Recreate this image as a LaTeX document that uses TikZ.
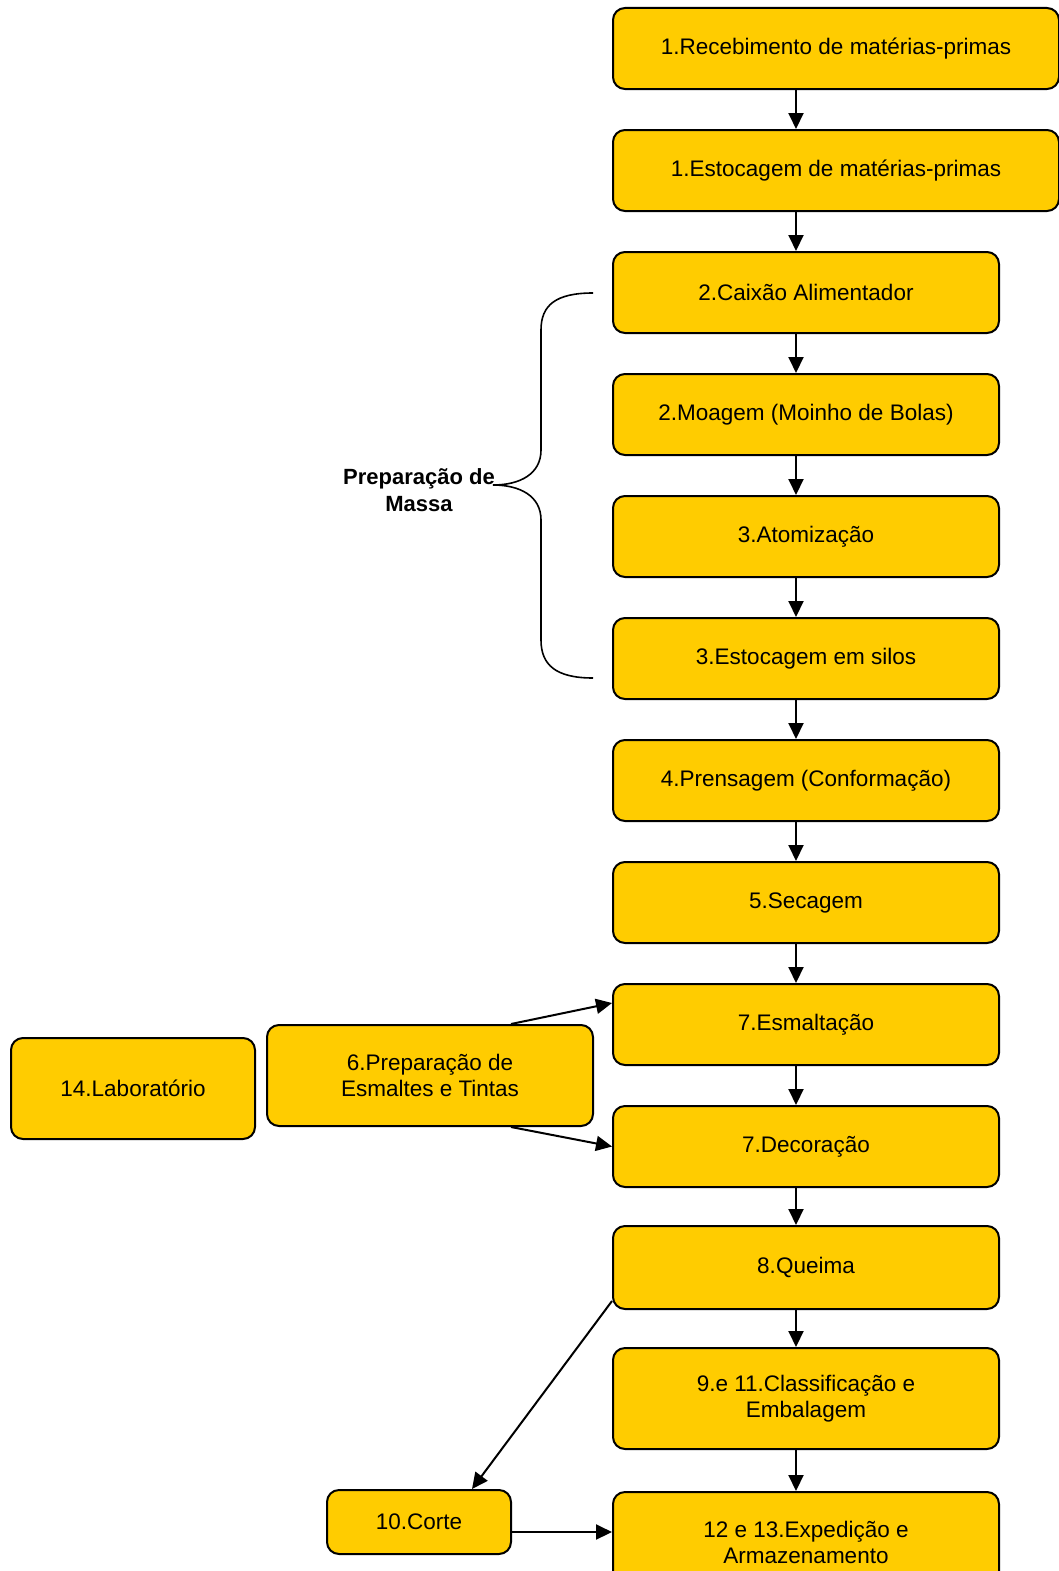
\documentclass[tikz,border=0pt]{standalone}
\usepackage{fontspec}
\setmainfont{Liberation Sans}
\usepackage{xcolor}
\usetikzlibrary{arrows.meta,positioning,calc}
\definecolor{etapa}{RGB}{255,204,0}

\begin{document}
\begin{tikzpicture}[x=1pt, y=-1pt,
  box/.style={draw, fill=etapa, line width=2pt, rounded corners=12pt, minimum width=386pt, minimum height=81pt, align=center, font=\fontsize{22.5}{26}\selectfont, inner sep=0pt},
  arrow/.style={-{Triangle[length=16pt,width=15pt]}, line width=2pt}
]
  \clip (0,0) rectangle (1059,1571);
  \coordinate (col) at (796,0);
  \node[box, minimum width=446pt] (rec) at (836,48.5)  {1.Recebimento de matérias-primas};
  \node[box, minimum width=446pt] (est) at (836,170.5) {1.Estocagem de matérias-primas};
  \node[box] (cai) at (806,292.5)  {2.Caixão Alimentador};
  \node[box] (moa) at (806,414.5)  {2.Moagem (Moinho de Bolas)};
  \node[box] (ato) at (806,536.5)  {3.Atomização};
  \node[box] (sil) at (806,658.5)  {3.Estocagem em silos};
  \node[box] (pre) at (806,780.5)  {4.Prensagem (Conformação)};
  \node[box] (sec) at (806,902.5)  {5.Secagem};
  \node[box] (esm) at (806,1024.5) {7.Esmaltação};
  \node[box] (dec) at (806,1146.5) {7.Decoração};
  \node[box, minimum height=83pt] (que) at (806,1267.5) {8.Queima};
  \node[box, minimum height=101pt] (cla) at (806,1398.5) {9.e 11.Classificação e\\Embalagem};
  \node[box, minimum height=101pt] (exp) at (806,1542.5) {12 e 13.Expedição e\\Armazenamento};
  \node[box, minimum width=184pt, minimum height=64pt] (cor) at (419,1522) {10.Corte};
  \node[box, minimum width=326pt, minimum height=101pt] (tin) at (430,1075.5) {6.Preparação de\\Esmaltes e Tintas};
  \node[box, minimum width=244pt, minimum height=101pt] (lab) at (133,1088.5) {14.Laboratório};
  \node[align=center, font=\bfseries\fontsize{22}{27}\selectfont] (mas) at (419,490) {Preparação de\\Massa};

  \foreach \i/\j in {rec/est,est/cai,cai/moa,moa/ato,ato/sil,sil/pre,pre/sec,sec/esm,esm/dec,dec/que,que/cla,cla/exp}
    \draw[arrow] (\i.south -| col) -- (\j.north -| col);
  \draw[arrow] ([yshift=9pt]que.south west) -- ([xshift=53pt]cor.north);
  \draw[arrow] ([yshift=-10pt]cor.east) -- ([yshift=-10pt]cor.east -| exp.west);
  \draw[arrow] ([xshift=81pt]tin.north) -- ([yshift=21.5pt]esm.west);
  \draw[arrow] ([xshift=81pt]tin.south) -- (dec.west);

  % chave da preparacao de massa
  \draw[line width=1.6pt] (593,293) .. controls (556,293) and (541,305) .. (541,330) -- (541,450)
    .. controls (541,474) and (520,485) .. (493,485)
    .. controls (520,485) and (541,496) .. (541,520) -- (541,640)
    .. controls (541,665) and (556,678) .. (593,678);
\end{tikzpicture}
\end{document}
